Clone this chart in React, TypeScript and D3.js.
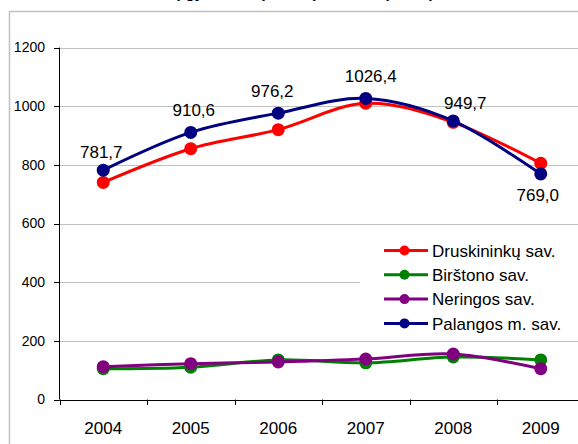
import React from "react";
import * as d3 from "d3";

const years = ["2004", "2005", "2006", "2007", "2008", "2009"];
const druskininku = [740, 855, 920, 1010, 945, 805];
const birstono = [105, 110, 135, 125, 145, 135];
const neringos = [112, 122, 128, 138, 155, 105];
const palangos = [781.7, 910.6, 976.2, 1026.4, 949.7, 769.0];
const palangosLabels = ["781,7", "910,6", "976,2", "1026,4", "949,7", "769,0"];
const yTicks = [0, 200, 400, 600, 800, 1000, 1200];
const seriesNames = ["Druskininkų sav.", "Birštono sav.", "Neringos sav.", "Palangos m. sav."];
const seriesColors = ["#ff0000", "#008000", "#800080", "#000080"];
const title = "Apgyvendintų svečių skaičius (tūkst.)";

// label placement offsets (layout)
const labelDx = [-2, 3, -6, 5, 12, -3];
const labelDy = [-12, -16, -16, -16, -12, 27];

const W = 578;
const H = 444;
const FONT = "'Liberation Sans', Arial, sans-serif";

export default function App() {
  const x = d3.scaleBand().domain(years).range([59.5, 584.5]).padding(0);
  const y = d3.scaleLinear().domain([0, 1200]).range([399.5, 47.5]);
  const cx = (i: number) => (x(years[i]) as number) + x.bandwidth() / 2;
  const line = d3
    .line<number>()
    .x((_, i) => cx(i))
    .y((d) => y(d))
    .curve(d3.curveCatmullRom.alpha(0));

  const allSeries = [druskininku, birstono, neringos, palangos];
  const boundaries = years.map((yr) => x(yr) as number).concat([584.5]);

  return (
    <svg
      width={W}
      height={H}
      style={{ position: "absolute", left: 0, top: 0, background: "#fff" }}
      fontFamily={FONT}
    >
      <rect x={0} y={0} width={W} height={H} fill="#fff" />
      <text x={434} y={-2.5} textAnchor="end" fontSize={15} fontWeight="bold" fill="#000">
        {title}
      </text>
      {/* outer chart border */}
      <rect x={9.5} y={11.5} width={W + 20} height={H + 20} fill="none" stroke="#c0c0c0" strokeWidth={1.5} />

      {/* gridlines */}
      {yTicks.filter((t) => t > 0).map((t) => (
        <line key={t} x1={59.5} x2={W + 10} y1={Math.round(y(t)) + 0.5} y2={Math.round(y(t)) + 0.5} stroke="#c0c0c0" strokeWidth={1} />
      ))}

      {/* y axis */}
      <line x1={59.5} x2={59.5} y1={y(1200)} y2={y(0)} stroke="#000" strokeWidth={1} />
      {yTicks.map((t) => (
        <g key={t}>
          <line x1={54} x2={59.5} y1={Math.round(y(t)) + 0.5} y2={Math.round(y(t)) + 0.5} stroke="#000" />
          <text x={45} y={y(t)} dy="0.35em" textAnchor="end" fontSize={14} fill="#000">
            {t}
          </text>
        </g>
      ))}

      {/* x axis */}
      <line x1={59.5} x2={W + 10} y1={Math.round(y(0)) + 0.5} y2={Math.round(y(0)) + 0.5} stroke="#000" strokeWidth={1} />
      {boundaries.map((b, i) => (
        <line key={i} x1={Math.round(b) + 0.5} x2={Math.round(b) + 0.5} y1={y(0)} y2={y(0) + 5.5} stroke="#000" />
      ))}
      {years.map((yr, i) => (
        <text key={yr} x={cx(i)} y={434} textAnchor="middle" fontSize={17} fill="#000">
          {yr}
        </text>
      ))}

      {/* series */}
      {allSeries.map((s, si) => (
        <g key={si}>
          <path d={line(s) as string} fill="none" stroke={seriesColors[si]} strokeWidth={3} strokeLinejoin="round" />
          {s.map((v, i) => (
            <circle key={i} cx={cx(i)} cy={y(v)} r={6.5} fill={seriesColors[si]} />
          ))}
        </g>
      ))}

      {/* data labels */}
      {palangos.map((v, i) => (
        <text key={i} x={cx(i) + labelDx[i]} y={y(v) + labelDy[i]} textAnchor="middle" fontSize={17} fill="#000">
          {palangosLabels[i]}
        </text>
      ))}

      {/* legend */}
      <rect x={360} y={234} width={W} height={104} fill="#fff" />
      {seriesNames.map((n, i) => {
        const ly = 250.5 + i * 24.3;
        return (
          <g key={n}>
            <line x1={384} x2={428} y1={ly} y2={ly} stroke={seriesColors[i]} strokeWidth={3} />
            <circle cx={404.5} cy={ly} r={5} fill={seriesColors[i]} />
            <text x={432} y={ly} dy="0.36em" fontSize={17} fill="#000">
              {n}
            </text>
          </g>
        );
      })}
    </svg>
  );
}
